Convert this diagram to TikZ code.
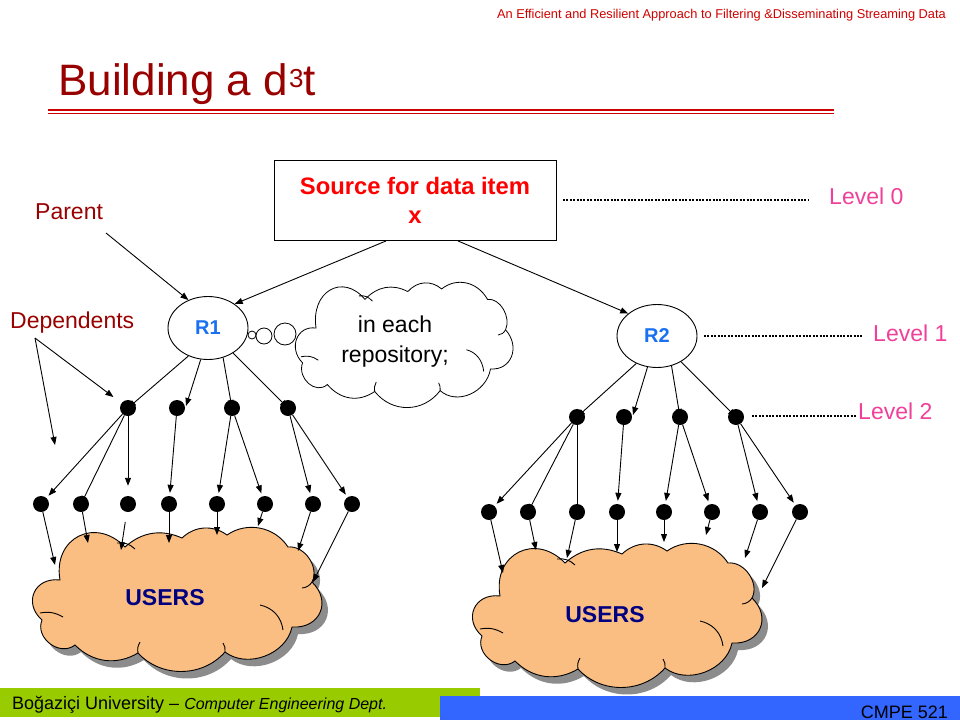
\documentclass[tikz,border=0pt]{standalone}
\usepackage{fontspec}
\setmainfont{Liberation Sans}
\usetikzlibrary{arrows.meta,shapes.geometric}
\definecolor{hdrred}{HTML}{D00000}
\definecolor{titlered}{HTML}{990000}
\definecolor{rulered}{HTML}{CC0000}
\definecolor{srcred}{HTML}{FF0000}
\definecolor{lvlpink}{HTML}{F0409A}
\definecolor{rblue}{HTML}{1A70F0}
\definecolor{navy}{HTML}{000080}
\definecolor{usrorange}{HTML}{FBBE82}
\definecolor{shadowgray}{HTML}{8C8C8C}
\definecolor{footgreen}{HTML}{99CC00}
\definecolor{footblue}{HTML}{3366FF}
% PowerPoint-like cloud outline, in a 290 x 145 box
\newcommand\pptcloudoutline[1]{%
  \path[#1] (28,53) to[bend left=73, looseness=1.5] (93,20)
    to[bend left=33] (150,11)
    to[bend left=40] (195,8)
    to[bend left=46] (256,20)
    to[bend left=62] (280,55)
    to[bend left=70, looseness=1.45] (260,100)
    to[bend left=58] (193,125)
    to[bend left=48] (106,126)
    to[bend left=38] (43,118)
    to[bend left=75, looseness=1.2] (10,93)
    to[bend left=73, looseness=1.5] (28,53) -- cycle;}
\newcommand\pptcloudinner[1]{%
  \draw[#1] (85,16) to[bend left=25] (103,22);
  \draw[#1] (8,86) to[bend left=20] (31,90);
  \draw[#1] (270,61) to[bend right=25] (280,55);
  \draw[#1] (228,78) to[bend left=35] (251,103);
  \draw[#1] (191,116) to[bend left=20] (193,125);
  \draw[#1] (106,126) to[bend left=20] (108,115);}
\begin{document}
\begin{tikzpicture}[x=1pt,y=-1pt,
  arr/.style={-{Triangle[length=8pt,width=6pt]}, line width=0.9pt},
  plain/.style={line width=0.9pt},
  dot/.style={circle, fill=black, inner sep=0pt, minimum size=16pt},
  repo/.style={ellipse, draw, line width=0.9pt, fill=white, minimum width=80pt, minimum height=63pt, inner sep=0pt,
    text=rblue, font=\fontsize{20}{24}\selectfont\bfseries},
  lbl/.style={font=\fontsize{23}{28}\selectfont, inner sep=0pt},
  lvl/.style={lbl, text=lvlpink},
  dotline/.style={line width=1.8pt, dash pattern=on 2pt off 1.4pt},
  bubble/.style={circle, draw, fill=white, line width=0.8pt, inner sep=0pt},
  usertext/.style={text=navy, font=\fontsize{23}{28}\selectfont\bfseries, inner sep=0pt}
]
\useasboundingbox (0,0) rectangle (960,720);
\fill[white] (0,0) rectangle (960,720);

% header and title
\node[anchor=east, text=hdrred, font=\fontsize{12.8}{14}\selectfont, inner sep=0pt] (hdr) at (946,15)
  {An Efficient and Resilient Approach to Filtering \&Disseminating Streaming Data};
\node[anchor=base west, text=titlered, font=\fontsize{44}{48}\selectfont, inner sep=0pt] (title) at (58,95)
  {Building a d\kern1pt\raisebox{8pt}{\fontsize{26}{28}\selectfont 3}t};
\draw[rulered, line width=2.2pt] (48,110) -- (834,110);
\draw[rulered, line width=1pt] (48,113.8) -- (834,113.8);

% source box
\node[draw, line width=0.9pt, minimum width=282pt, minimum height=80pt, inner sep=0pt, align=center,
  text=srcred, font=\fontsize{23.8}{29}\selectfont\bfseries] (src) at (415,200.5) {Source for data item\\x};
\coordinate (l0a) at (563,200);
\coordinate (l0b) at (809,200);
\draw[dotline] (l0a) -- (l0b);
\node[lvl, anchor=west] (lvl0) at (829,196) {Level 0};

% labels
\node[lbl, text=titlered, anchor=west] (parent) at (35,212) {Parent};
\node[lbl, text=titlered, anchor=west] (dep) at (10,323) {Dependents};

% repositories
\node[repo] (R1) at (208,328) {R1};
\node[repo] (R2) at (657,336) {R2};

% thought bubble
\node[bubble, minimum size=8pt] (b1) at (252,335) {};
\node[bubble, minimum size=16pt] (b2) at (264,336) {};
\node[bubble, minimum size=22pt] (b3) at (285,334) {};
\begin{scope}[shift={(295,282)}, xscale=0.752, yscale=0.869]
  \pptcloudoutline{draw, line width=0.8pt, fill=white}
  \pptcloudinner{line width=0.8pt}
\end{scope}
\node[lbl, align=center, font=\fontsize{23}{30}\selectfont] (ttext) at (395,342) {in each\\repository;};

% level lines
\coordinate (l1a) at (704,336);
\coordinate (l1b) at (862,336);
\draw[dotline] (l1a) -- (l1b);
\node[lvl, anchor=west] (lvl1) at (873,333) {Level 1};
\coordinate (l2a) at (752,416);
\coordinate (l2b) at (857,416);
\draw[dotline] (l2a) -- (l2b);
\node[lvl, anchor=west] (lvl2) at (858,411) {Level 2};

% user clouds (shadow first)
\begin{scope}[shift={(38,534)}]
  \pptcloudoutline{fill=shadowgray}
\end{scope}
\begin{scope}[shift={(32,527)}]
  \pptcloudoutline{draw, line width=0.9pt, fill=usrorange}
  \pptcloudinner{line width=0.9pt}
\end{scope}
\node[usertext] (u1t) at (165,598) {USERS};
\begin{scope}[shift={(478,550)}]
  \pptcloudoutline{fill=shadowgray}
\end{scope}
\begin{scope}[shift={(472,543)}]
  \pptcloudoutline{draw, line width=0.9pt, fill=usrorange}
  \pptcloudinner{line width=0.9pt}
\end{scope}
\node[usertext] (u2t) at (605,615) {USERS};

% level 2 dots
\node[dot] (d1) at (128,408) {};
\node[dot] (d2) at (177,408) {};
\node[dot] (d3) at (232,408) {};
\node[dot] (d4) at (288,408) {};
\node[dot] (f1) at (577,417) {};
\node[dot] (f2) at (624,417) {};
\node[dot] (f3) at (680,417) {};
\node[dot] (f4) at (736,417) {};

% level 3 dots
\foreach \n/\x in {1/41,2/81,3/128,4/169,5/217,6/265,7/313,8/352}
  \node[dot] (e\n) at (\x,504) {};
\foreach \n/\x in {1/489,2/528,3/577,4/617,5/664,6/712,7/760,8/800}
  \node[dot] (g\n) at (\x,512) {};

% source to repositories
\draw[arr] ([xshift=-29pt]src.south) -- (R1.42);
\draw[arr] ([xshift=43pt]src.south) -- (R2.142);

% Parent / Dependents pointers
\coordinate (pa) at (106,233);
\draw[arr] (pa) -- (R1.125);
\coordinate (dp) at (35,338);
\coordinate (dq) at (55,445);
\draw[arr] (dp) -- (dq);
\draw[arr, shorten >=10pt] (dp) -- (d1);

% R1 to level 2
\draw[arr] (R1.235) -- (d1.center);
\coordinate (d2t) at (186,406);
\draw[arr] (R1.257) -- (d2t);
\draw[arr] (R1.297) -- (d3.center);
\draw[arr] (R1.315) -- (d4.center);

% R2 to level 2
\draw[arr] (R2.233) -- (f1.center);
\coordinate (f2t) at (633,415);
\draw[arr] (R2.253) -- (f2t);
\draw[arr] (R2.296) -- (f3.center);
\draw[arr] (R2.313) -- (f4.center);

% R1 level 2 -> level 3
\draw[arr, shorten >=3pt] (d1) -- (e1);
\draw[arr] (d1) -- (e2.center);
\draw[arr, shorten >=10pt] (d1) -- (e3);
\draw[arr, shorten >=3pt] (d2) -- (e4);
\draw[arr, shorten >=3pt] (d3) -- (e5);
\draw[arr, shorten >=3pt] (d3) -- (e6);
\draw[arr, shorten >=3pt] (d4) -- (e7);
\draw[arr, shorten >=3pt] (d4) -- (e8);

% R2 level 2 -> level 3
\draw[arr, shorten >=3pt] (f1) -- (g1);
\draw[arr] (f1) -- (g2.center);
\draw[plain] (f1) -- (g3);
\draw[arr, shorten >=3pt] (f2) -- (g4);
\draw[arr, shorten >=3pt] (f3) -- (g5);
\draw[arr, shorten >=3pt] (f3) -- (g6);
\draw[arr, shorten >=3pt] (f4) -- (g7);
\draw[arr, shorten >=3pt] (f4) -- (g8);

% level 3 -> users (R1)
\coordinate (t1) at (55,565);
\coordinate (t2) at (88,543);
\coordinate (t3) at (121,550);
\coordinate (t4) at (169,543);
\coordinate (t5) at (217,535);
\coordinate (t6) at (258,526);
\coordinate (t7) at (298,551);
\coordinate (t8) at (313,582);
\draw[arr] (e1) -- (t1);
\draw[arr] (e2) -- (t2);
\draw[arr, shorten <=10pt] (e3) -- (t3);
\draw[arr] (e4) -- (t4);
\draw[arr] (e5) -- (t5);
\draw[arr] (e6) -- (t6);
\draw[arr] (e7) -- (t7);
\draw[arr] (e8) -- (t8);

% level 3 -> users (R2)
\coordinate (s1) at (503,573);
\coordinate (s2) at (536,550);
\coordinate (s3) at (567,558);
\coordinate (s4) at (617,552);
\coordinate (s5) at (664,542);
\coordinate (s6) at (706,535);
\coordinate (s7) at (745,558);
\coordinate (s8) at (762,588);
\foreach \n in {1,...,8} \draw[arr] (g\n) -- (s\n);

% footer
\fill[footgreen] (0,688) rectangle (480,717);
\fill[footblue] (440,696) rectangle (960,720);
\node[anchor=base west, inner sep=0pt, font=\fontsize{18}{20}\selectfont] (univ) at (12,709)
  {Boğaziçi University -- {\fontsize{16}{18}\selectfont\itshape Computer Engineering Dept.}};
\node[anchor=base east, inner sep=0pt, font=\fontsize{18}{20}\selectfont] (cmpe) at (948,718) {CMPE 521};
\end{tikzpicture}
\end{document}
